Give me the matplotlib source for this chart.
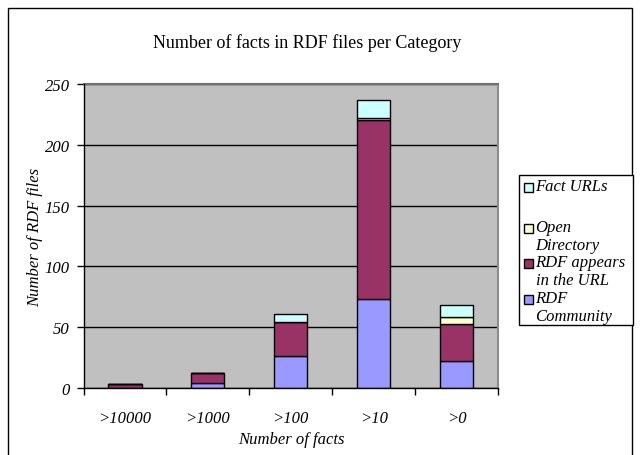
import matplotlib
matplotlib.use("Agg")
import matplotlib.pyplot as plt
from matplotlib.patches import Rectangle
import numpy as np

categories = [">10000", ">1000", ">100", ">10", ">0"]
rdf_community = [0, 4, 26, 73, 22]
rdf_in_url = [3, 8, 28, 147, 31]
open_directory = [0, 0, 0, 2, 5]
fact_urls = [0, 0, 7, 15, 10]

series = [
    ("RDF\nCommunity", rdf_community, "#9999FF"),
    ("RDF appears\nin the URL", rdf_in_url, "#993366"),
    ("Open\nDirectory", open_directory, "#FFFFCC"),
    ("Fact URLs", fact_urls, "#CCFFFF"),
]

plt.rcParams["font.family"] = ["Liberation Serif", "DejaVu Serif"]

W, H = 640, 456
fig = plt.figure(figsize=(W / 100, H / 100), dpi=100)

def fx(px):
    return px / W

def fy(py):
    return 1 - py / H

# chart area border
fig.patches.append(Rectangle((fx(8), fy(470)), fx(632) - fx(8), fy(9) - fy(470),
                             transform=fig.transFigure, fill=False,
                             edgecolor="black", linewidth=1.0))

ax = fig.add_axes([fx(83.5), fy(389), fx(498) - fx(83.5), fy(85) - fy(389)])
ax.set_facecolor("#C0C0C0")

x = np.arange(len(categories))
bottom = np.zeros(len(categories))
for label, vals, color in series:
    vals = np.array(vals, dtype=float)
    ax.bar(x, vals, width=0.4, bottom=bottom, color=color,
           edgecolor="black", linewidth=1.0, zorder=3)
    bottom += vals

ax.set_xlim(-0.5, len(categories) - 0.5)
ax.set_ylim(0, 250)
ax.set_yticks(np.arange(0, 251, 50))
ax.yaxis.grid(True, color="black", linewidth=1.0, zorder=1)
ax.set_axisbelow(True)

ax.set_xticks(np.arange(-0.5, len(categories), 1.0))
ax.set_xticklabels([])
ax.set_xticks(x, minor=True)
ax.set_xticklabels(categories, minor=True, fontsize=12, style="italic")
ax.tick_params(axis="x", which="minor", length=0, pad=16)
ax.tick_params(axis="x", which="major", length=5, width=1.0, direction="out")
ax.tick_params(axis="y", length=5, width=1.0, direction="out", pad=5,
               labelsize=12)
for t in ax.get_yticklabels():
    t.set_fontstyle("italic")

for s in ("left", "bottom"):
    ax.spines[s].set_color("black")
    ax.spines[s].set_linewidth(1.0)
ax.spines["top"].set_color("#707070")
ax.spines["top"].set_linewidth(1.5)
ax.spines["right"].set_color("#8C8C8C")
ax.spines["right"].set_linewidth(1.5)
ax.spines["left"].set_zorder(4)
ax.spines["bottom"].set_zorder(4)

fig.text(fx(307), fy(43), "Number of facts in RDF files per Category",
         ha="center", va="center", fontsize=13)
fig.text(fx(291), fy(440), "Number of facts", ha="center", va="center",
         fontsize=12, style="italic")
fig.text(fx(35), fy(237), "Number of RDF files", ha="center", va="center",
         fontsize=12, style="italic", rotation=90)

# legend
fig.patches.append(Rectangle((fx(519), fy(326)), fx(633) - fx(519), fy(176) - fy(326),
                             transform=fig.transFigure, facecolor="white",
                             edgecolor="black", linewidth=1.0))
legend_rows = [
    ("Fact URLs", "#CCFFFF", 188),
    ("Open\nDirectory", "#FFFFCC", 229),
    ("RDF appears\nin the URL", "#993366", 264),
    ("RDF\nCommunity", "#9999FF", 300),
]
for text, color, ycen in legend_rows:
    fig.patches.append(Rectangle((fx(523.5), fy(ycen + 4.5)), fx(9), fy(0) - fy(9),
                                 transform=fig.transFigure, facecolor=color,
                                 edgecolor="black", linewidth=1.0))
    fig.text(fx(535.5), fy(ycen - 9), text, ha="left", va="top", fontsize=12,
             style="italic", linespacing=1.15)

fig.savefig("out.png", dpi=100)
